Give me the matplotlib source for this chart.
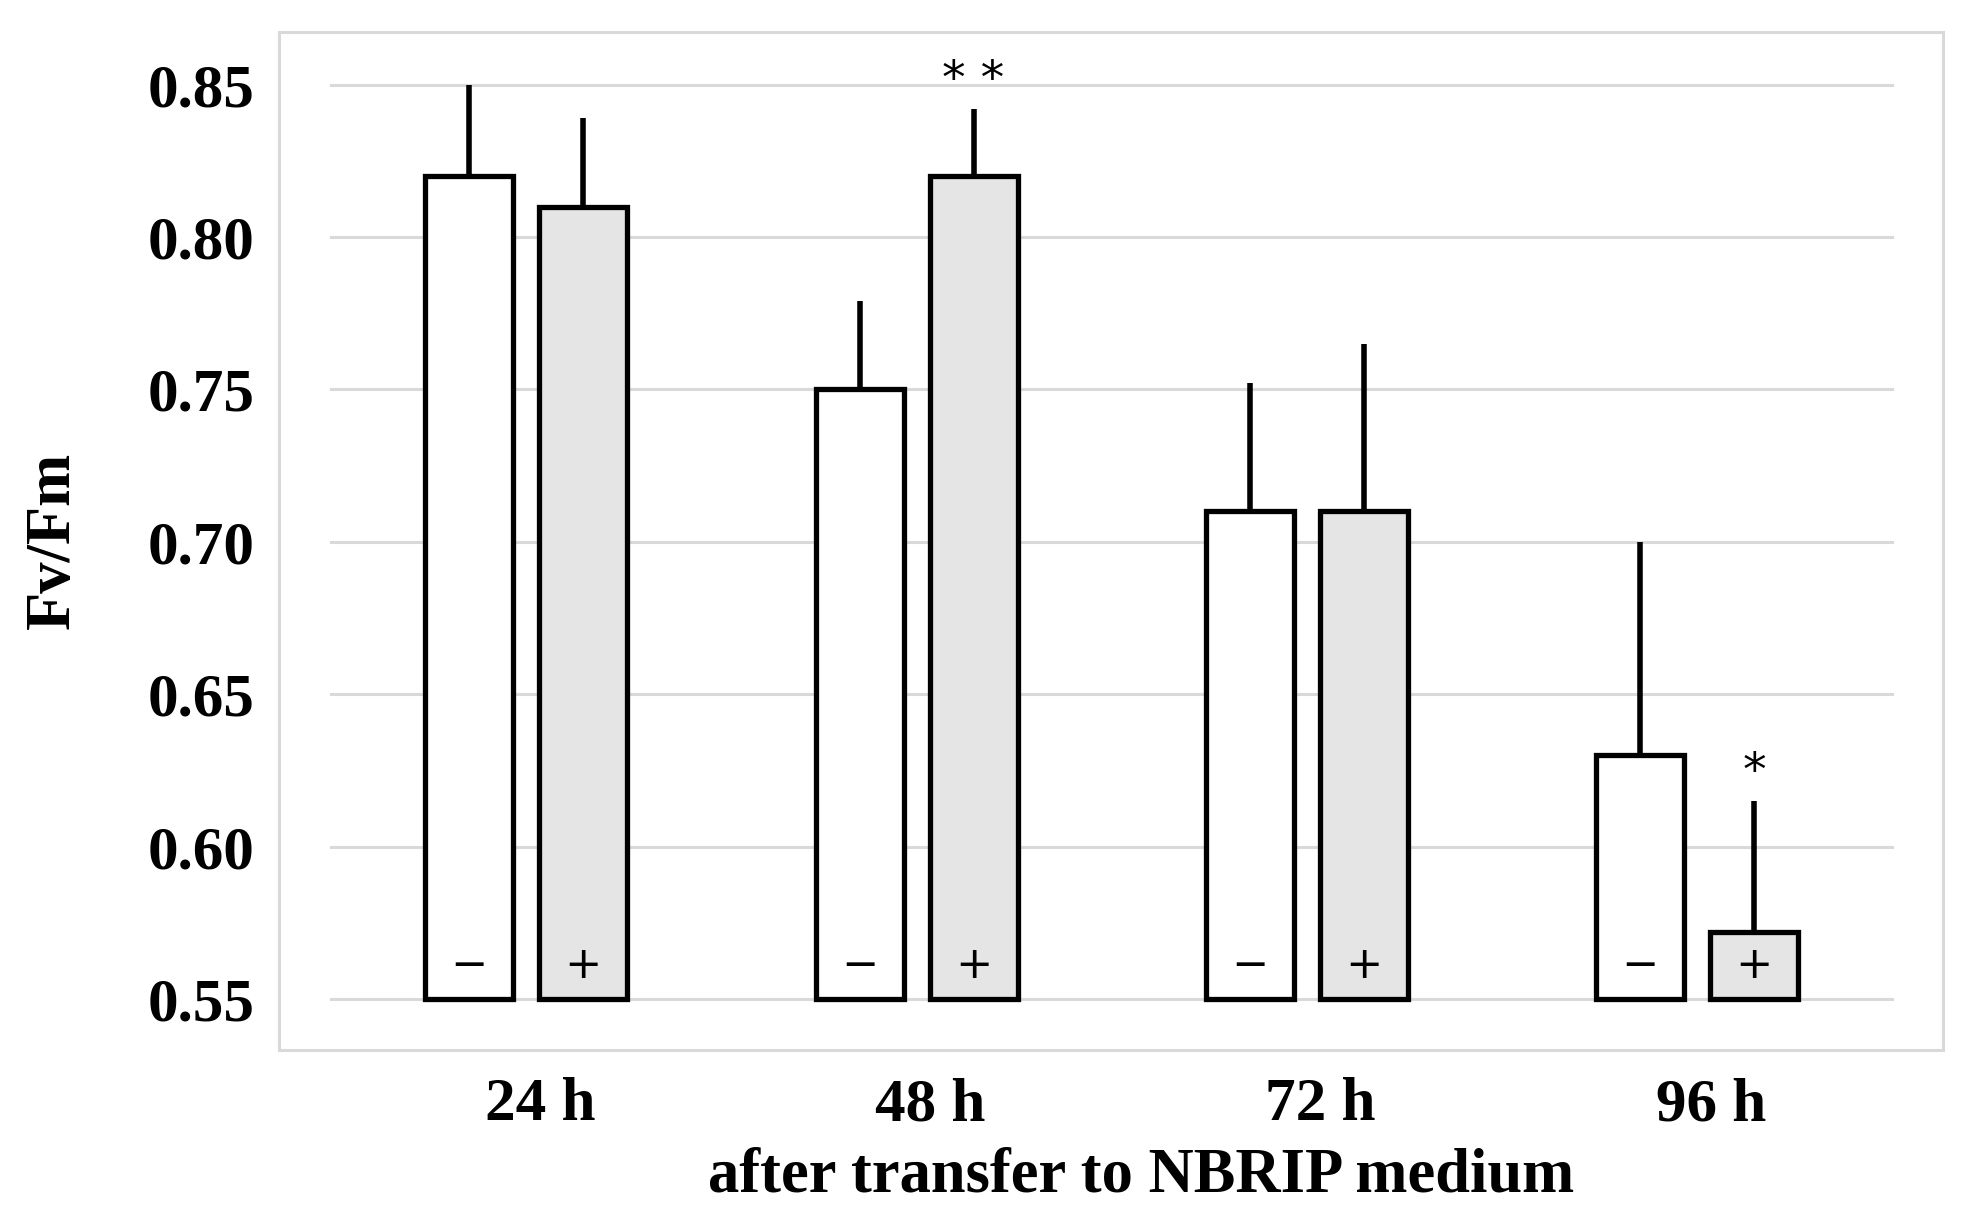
import numpy as np
import matplotlib.pyplot as plt

# -----------------------------
# DATA
# -----------------------------
times = ["24 h", "48 h", "72 h", "96 h"]
minus_vals = [0.82, 0.75, 0.71, 0.63]
minus_err = [0.030, 0.029, 0.042, 0.070]
plus_vals = [0.81, 0.82, 0.71, 0.572]
plus_err = [0.029, 0.022, 0.055, 0.043]
signif = ["", "* *", "", "*"]

base = 0.55
yticks = [0.55, 0.60, 0.65, 0.70, 0.75, 0.80, 0.85]

# -----------------------------
# PLOT
# -----------------------------
plt.rcParams['font.family'] = ['Liberation Serif', 'DejaVu Serif']

fig = plt.figure(figsize=(19.82, 12.19), dpi=100)
ax = fig.add_axes([0.1409, 0.139, 0.8393, 0.835])

x = np.arange(len(times))
w = 0.225
off = 0.146

for yv in yticks:
    ax.plot([-0.5, 3.5], [yv, yv], color="#d9d9d9", lw=2.2, zorder=0)

h_minus = np.array(minus_vals) - base
h_plus = np.array(plus_vals) - base

ax.bar(x - off, h_minus, w, bottom=base, color="white", edgecolor="black",
       linewidth=3.8, zorder=2)
ax.bar(x + off, h_plus, w, bottom=base, color="#e5e5e5", edgecolor="black",
       linewidth=3.8, zorder=2)

# upper error bars only
ax.errorbar(x - off, minus_vals, yerr=[np.zeros(4), minus_err], fmt="none",
            ecolor="black", elinewidth=4, capsize=0, zorder=1)
ax.errorbar(x + off, plus_vals, yerr=[np.zeros(4), plus_err], fmt="none",
            ecolor="black", elinewidth=4, capsize=0, zorder=1)

for i in range(len(times)):
    ax.text(x[i] - off, 0.561, "\u2212", ha="center", va="center",
            fontsize=32, family="DejaVu Sans", zorder=3)
    ax.text(x[i] + off, 0.561, "+", ha="center", va="center",
            fontsize=32, family="DejaVu Sans", zorder=3)
    if signif[i]:
        ax.text(x[i] + off, plus_vals[i] + plus_err[i] + 0.002, signif[i],
                ha="center", va="bottom", fontsize=34, family="DejaVu Sans")

ax.set_xlim(-0.633, 3.629)
ax.set_ylim(0.5334, 0.8674)
ax.set_yticks(yticks)
ax.set_yticklabels([f"{v:.2f}" for v in yticks])
ax.set_xticks(x + 0.035)
ax.set_xticklabels(times)
ax.tick_params(axis="y", length=0, pad=18, labelsize=44)
ax.tick_params(axis="x", length=0, pad=20, labelsize=44)
for lab in ax.get_xticklabels() + ax.get_yticklabels():
    lab.set_fontweight("bold")

for s in ax.spines.values():
    s.set_color("#d9d9d9")
    s.set_linewidth(2.2)

ax.set_xlabel("after transfer to NBRIP medium", fontsize=45, fontweight="bold")
ax.xaxis.set_label_coords(0.518, -0.096)
ax.set_ylabel("Fv/Fm", fontsize=45, fontweight="bold", labelpad=46)

plt.savefig("out.png", dpi=100)
